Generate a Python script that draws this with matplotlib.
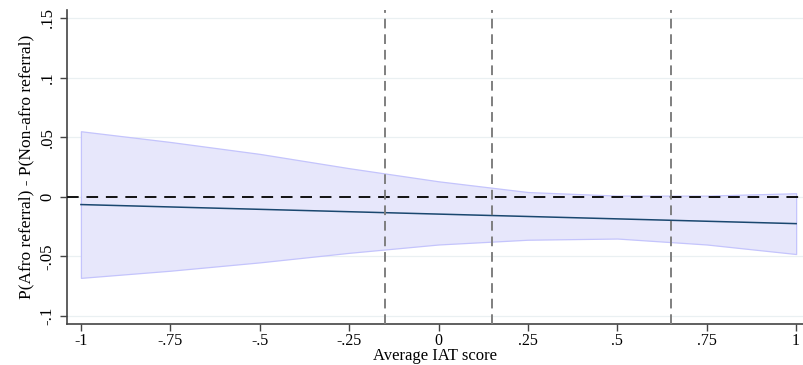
import numpy as np
import matplotlib.pyplot as plt

plt.rcParams['font.family'] = ['Liberation Serif', 'DejaVu Serif']

# predicted difference at IAT score grid points, with 95% CI
iat = [-1, -0.75, -0.5, -0.25, 0, 0.25, 0.5, 0.75, 1]
diff = [-0.0065, -0.0085, -0.0105, -0.0125, -0.0145, -0.0165, -0.0185, -0.0205, -0.0225]
ci_lo = [-0.068, -0.062, -0.055, -0.047, -0.040, -0.036, -0.035, -0.040, -0.048]
ci_hi = [0.055, 0.046, 0.036, 0.024, 0.013, 0.004, 0.001, 0.001, 0.003]

# reference cutoffs on the IAT scale
cutoffs = [-0.15, 0.15, 0.65]

xticks = [-1, -0.75, -0.5, -0.25, 0, 0.25, 0.5, 0.75, 1]
xticklabels = ['-1', '-.75', '-.5', '-.25', '0', '.25', '.5', '.75', '1']
yticks = [-0.1, -0.05, 0, 0.05, 0.1, 0.15]
yticklabels = ['-.1', '-.05', '0', '.05', '.1', '.15']

fig = plt.figure(figsize=(8.04, 3.65), dpi=100)
ax = fig.add_axes([0.0833, 0.1123, 0.9167, 0.8603])

for y in yticks:
    ax.axhline(y, color='#eaf0f2', lw=0.9, zorder=0)

ax.fill_between(iat, ci_lo, ci_hi, facecolor='#e7e7fb', edgecolor='#c4c4fc', lw=0.9, zorder=1)
ax.plot(iat, diff, color='#1a476f', lw=1.1, zorder=3)
ax.axhline(0, color='#111111', lw=1.4, ls=(0, (6, 4)), zorder=4)
for c in cutoffs:
    ax.axvline(c, color='#7f7f7f', lw=1.4, ls=(0, (5, 3)), zorder=4)

ax.set_xlim(-1.039, 1.022)
ax.set_ylim(-0.1067, 0.1567)
ax.set_xticks(xticks)
ax.set_xticklabels(xticklabels, fontsize=11.5)
ax.set_yticks(yticks)
ax.set_yticklabels(yticklabels, fontsize=12, rotation=90, va='center')
ax.set_xlabel('Average IAT score', fontsize=12, labelpad=-1)
ax.set_ylabel('P(Afro referral) - P(Non-afro referral)', fontsize=12.5, labelpad=4)

for s in ['top', 'right']:
    ax.spines[s].set_visible(False)
for s in ['left', 'bottom']:
    ax.spines[s].set_color('#444444')
    ax.spines[s].set_linewidth(1.2)
ax.tick_params(direction='out', length=5, width=1, color='#444444')
ax.tick_params(axis='x', pad=1.5)
ax.tick_params(axis='y', pad=3)

fig.savefig('out.png', dpi=100)
